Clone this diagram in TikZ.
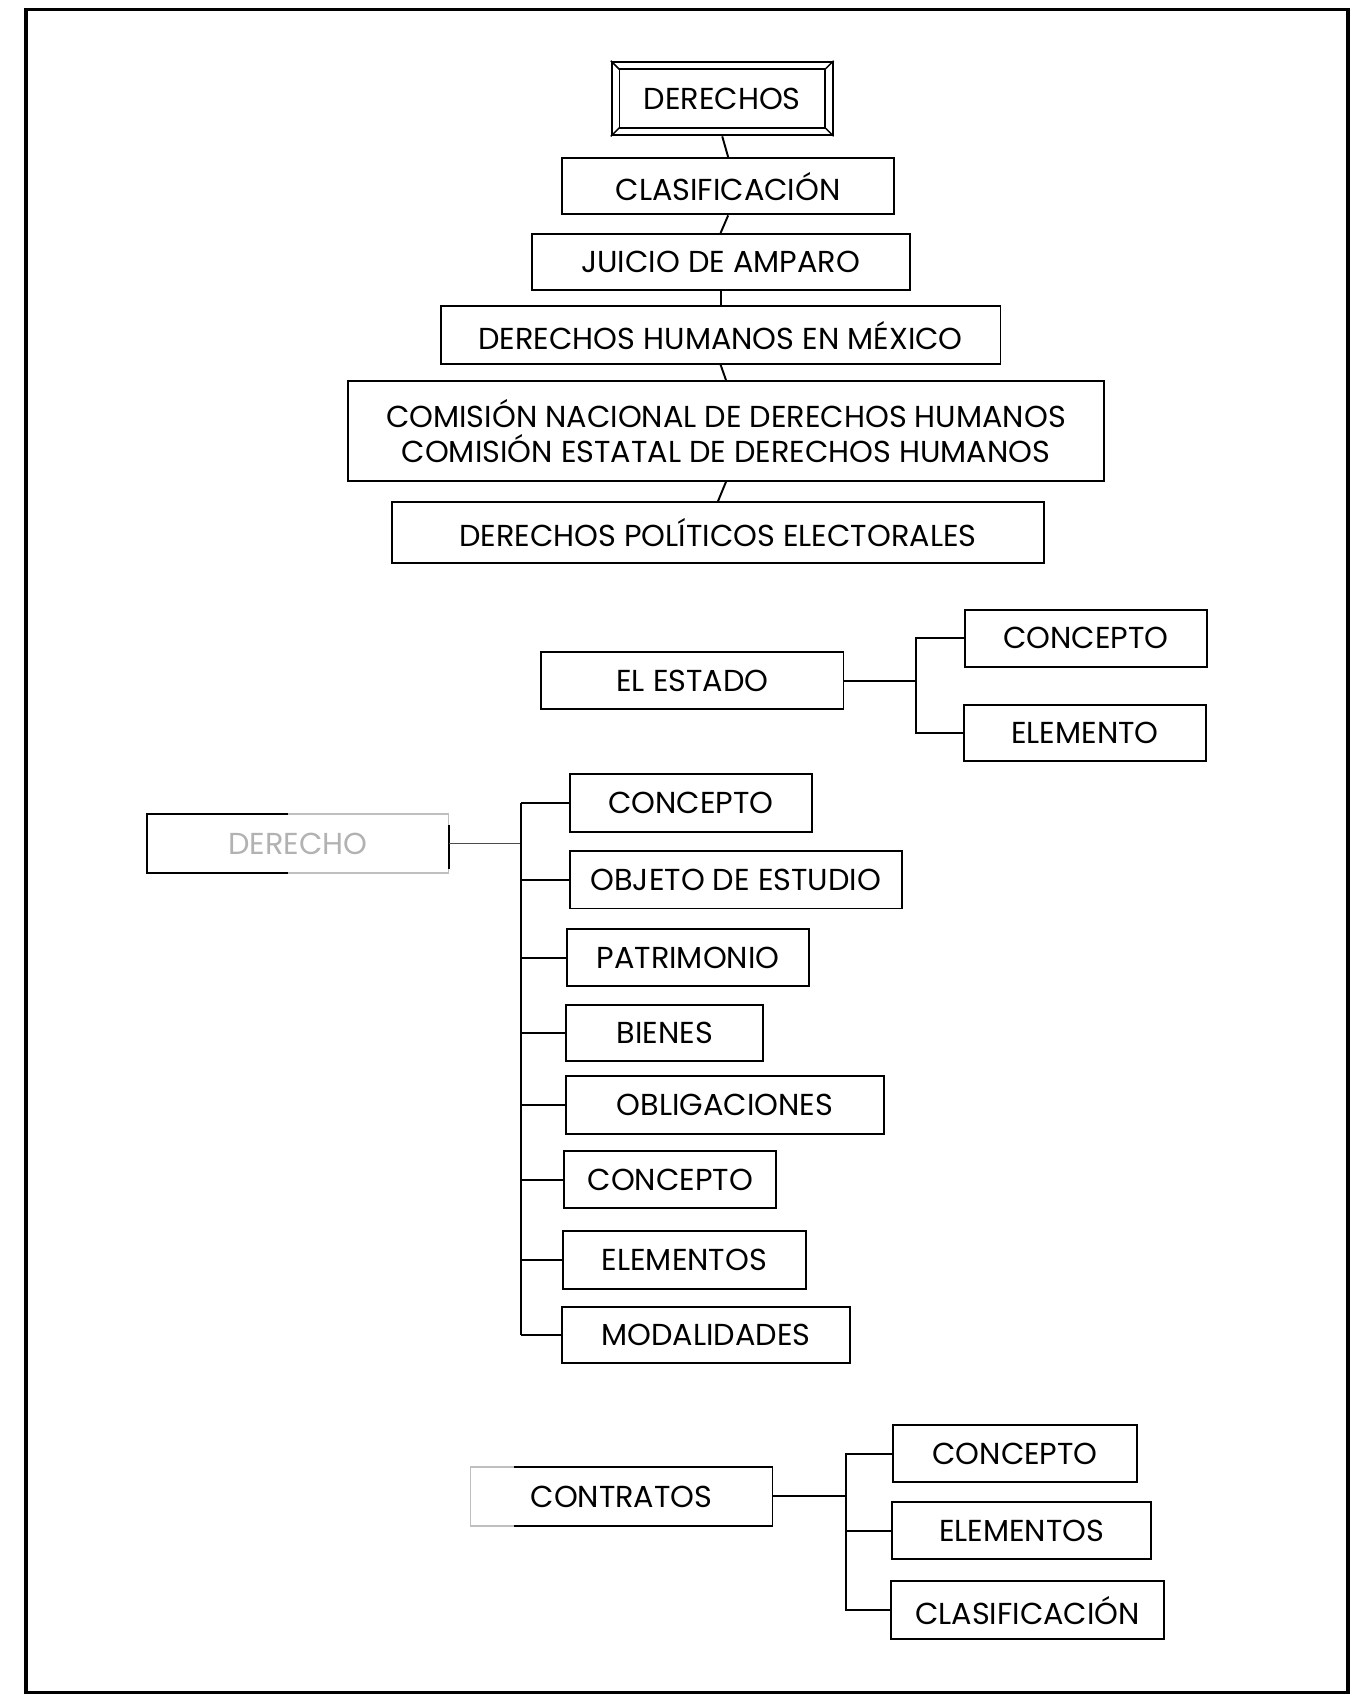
\documentclass[tikz,border=0pt]{standalone}
\usepackage{fontspec}
\setmainfont{Poppins}
\newcommand{\boxfont}{\fontsize{14}{16.5}\selectfont}
\tikzset{
  box/.style={draw, line width=0.9pt, inner sep=0pt, font=\boxfont, align=center},
  conn/.style={line width=0.9pt},
  faint/.style={draw=black!25, line width=0.7pt}
}
\begin{document}
\begin{tikzpicture}[x=0.5pt,y=-0.5pt]
\useasboundingbox (0,0) rectangle (1252,1570);
% frame
\draw[line width=1.5pt] (24,9) rectangle (1245,1563);

% top chain
\node[box, minimum width=102pt, minimum height=34pt] (der) at (667,91) {DERECHOS};
\draw[line width=0.9pt] ([shift={(8,8)}]der.north west) rectangle ([shift={(-8,-8)}]der.south east);
\draw[line width=0.7pt] (der.north west) -- ([shift={(8,8)}]der.north west)
  (der.south west) -- ([shift={(8,-8)}]der.south west)
  (der.north east) -- ([shift={(-8,8)}]der.north east)
  (der.south east) -- ([shift={(-8,-8)}]der.south east);
\node[box, minimum width=153.5pt, minimum height=26pt] (cla) at (672.5,172) {CLASIFICACIÓN};
\node[box, minimum width=174.5pt, minimum height=26pt] (jui) at (665.5,242) {JUICIO DE AMPARO};
\node[box, minimum width=258.5pt, minimum height=26.5pt] (dhm) at (665.5,309.5) {DERECHOS HUMANOS EN MÉXICO};
\node[box, minimum width=349.5pt, minimum height=46pt] (com) at (670.5,398) {COMISIÓN NACIONAL DE DERECHOS HUMANOS\\COMISIÓN ESTATAL DE DERECHOS HUMANOS};
\node[box, minimum width=301pt, minimum height=28pt] (dpe) at (663,492) {DERECHOS POLÍTICOS ELECTORALES};
\draw[conn] (der.south) -- (cla.north);
\draw[conn] (cla.south) -- (jui.north);
\draw[conn] (jui.south) -- (dhm.north);
\draw[conn] (dhm.south) -- (com.north);
\draw[conn] (com.south) -- (dpe.north);

% El Estado
\node[box, minimum width=139.5pt, minimum height=26.5pt] (est) at (639.5,628.5) {EL ESTADO};
\node[box, minimum width=112pt, minimum height=26.5pt] (ec) at (1003,589.5) {CONCEPTO};
\node[box, minimum width=112pt, minimum height=26pt] (ee) at (1002,677) {ELEMENTO};
\coordinate (jE) at (846,628.5);
\draw[conn] (est.east) -- (jE);
\draw[conn] (ec.west) -| (jE);
\draw[conn] (ee.west) -| (jE);

% Derecho
\node[inner sep=0pt, minimum width=139pt, minimum height=27pt, font=\boxfont, text=black!30] (dr) at (275,779) {DERECHO};
\draw[faint] (dr.north west) rectangle (dr.south east);
\draw[line width=0.9pt] ([xshift=65]dr.north west) -- (dr.north west) -- (dr.south west) -- ([xshift=65]dr.south west);
\draw[line width=0.9pt] ([yshift=-5]dr.north east) -- ([yshift=2]dr.south east);
\coordinate (tr) at (481,779);
\node[box, minimum width=112pt, minimum height=26.5pt] (c1) at (638,741.5) {CONCEPTO};
\node[box, minimum width=153.5pt, minimum height=26.5pt] (c2) at (679.5,812.5) {OBJETO DE ESTUDIO};
\node[box, minimum width=111.5pt, minimum height=26.5pt] (c3) at (635.5,884.5) {PATRIMONIO};
\node[box, minimum width=91pt, minimum height=26pt] (c4) at (614,954) {BIENES};
\node[box, minimum width=146.5pt, minimum height=26.5pt] (c5) at (669.5,1020.5) {OBLIGACIONES};
\node[box, minimum width=98pt, minimum height=26.5pt] (c6) at (619,1089.5) {CONCEPTO};
\node[box, minimum width=112pt, minimum height=26.5pt] (c7) at (632,1163.5) {ELEMENTOS};
\node[box, minimum width=133pt, minimum height=26pt] (c8) at (652,1233) {MODALIDADES};
\draw[line width=0.7pt, black!70] (dr.east) -- (tr);
\draw[conn] (c1.west -| tr) -- (c8.west -| tr);
\foreach \n in {c1,c2,c3,c4,c5,c6,c7,c8} \draw[conn] (\n.west) -- (\n.west -| tr);

% Contratos
\node[inner sep=0pt, minimum width=139pt, minimum height=27pt, font=\boxfont] (ct) at (574,1382) {CONTRATOS};
\draw[line width=0.9pt] ([xshift=20]ct.north west) -- (ct.north east) -- (ct.south east) -- ([xshift=20]ct.south west);
\draw[faint] ([xshift=20]ct.north west) -- (ct.north west) -- (ct.south west) -- ([xshift=20]ct.south west);
\node[box, minimum width=112.5pt, minimum height=26.5pt] (kc) at (937.5,1342.5) {CONCEPTO};
\node[box, minimum width=119.5pt, minimum height=26.5pt] (ke) at (943.5,1413.5) {ELEMENTOS};
\node[box, minimum width=126pt, minimum height=27pt] (kk) at (949,1487) {CLASIFICACIÓN};
\coordinate (jC) at (781,1382);
\draw[conn] (ct.east) -- (jC);
\draw[conn] (kc.west) -| (jC);
\draw[conn] (kk.west) -| (jC);
\draw[conn] (ke.west) -- (ke.west -| jC);
\end{tikzpicture}
\end{document}
